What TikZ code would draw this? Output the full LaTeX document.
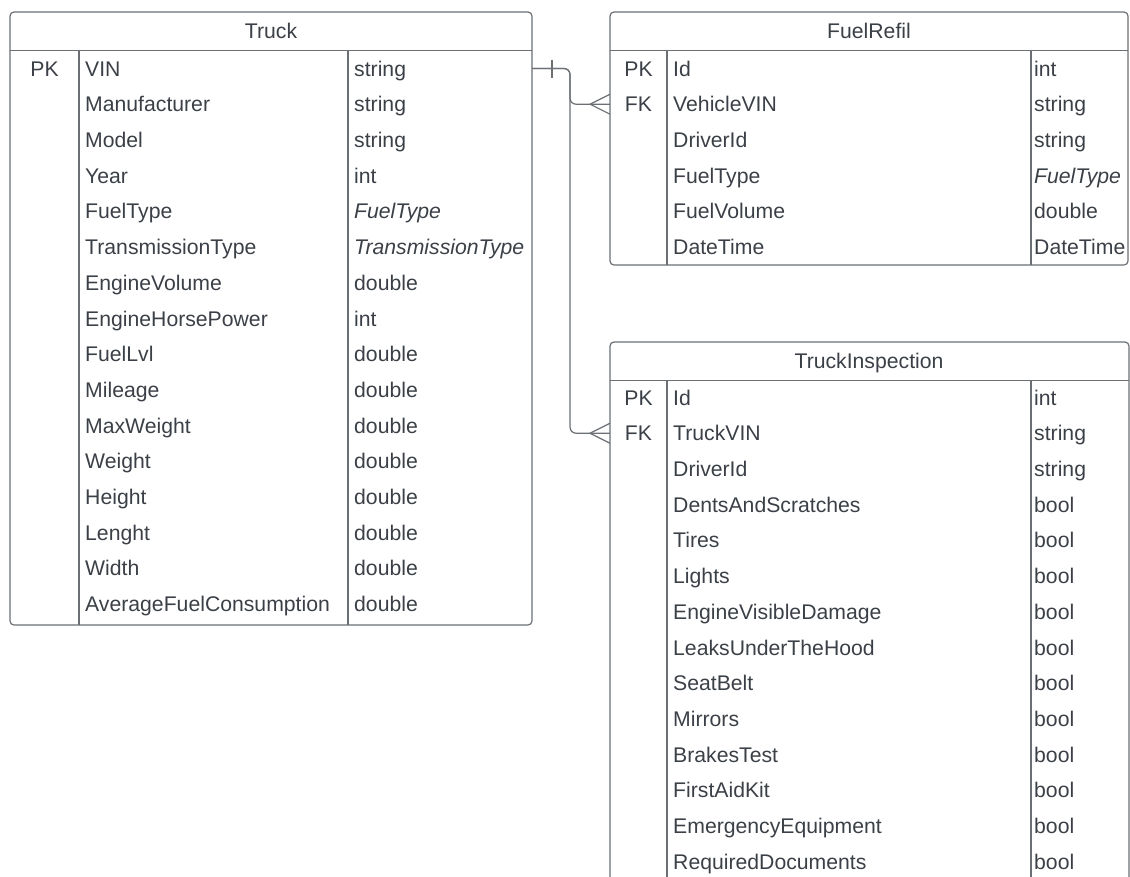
\documentclass[tikz,border=0pt]{standalone}
\usepackage{fontspec}
\setmainfont{Liberation Sans}
\usetikzlibrary{positioning}
\definecolor{erline}{HTML}{6C7075}
\definecolor{ertext}{HTML}{3B4047}

\begin{document}
\begin{tikzpicture}[x=1pt, y=-1pt,
    tbl/.style={draw=erline, line width=1.2pt, rounded corners=4pt},
    sep/.style={draw=erline, line width=1.2pt},
    cell/.style={anchor=west, inner sep=0pt, text=ertext, text height=15.2pt, text depth=0pt, font=\fontsize{21.2}{25}\selectfont},
    title/.style={cell, anchor=center},
    rel/.style={draw=erline, line width=1.2pt, rounded corners=6pt}
]
    \useasboundingbox (0,0) rectangle (1130,876);
    \clip (0,0) rectangle (1130,876);

    % Truck
    \draw[tbl] (10,12) rectangle (532,625);
    \draw[sep] (10,50.5) -- (532,50.5);
    \draw[sep] (79,50.5) -- (79,625) (348,50.5) -- (348,625);
    \node[title] (truck) at (271,31) {Truck};
    \node[title] (truck-pk) at (44.5,68.5) {PK};
    \foreach \n/\t [count=\i] in {VIN/string, Manufacturer/string, Model/string, Year/int,
        FuelType/{\textit{FuelType}}, TransmissionType/{\textit{TransmissionType}},
        EngineVolume/double, EngineHorsePower/int, FuelLvl/double, Mileage/double,
        MaxWeight/double, Weight/double, Height/double, Lenght/double, Width/double,
        AverageFuelConsumption/double} {
        \node[cell] (truck-\i) at (85,{68.5+35.7*(\i-1)}) {\n};
        \node[cell] (truck-type-\i) at (354,{68.5+35.7*(\i-1)}) {\t};
    }
    \coordinate (truck-vin) at (532,68.5);

    % FuelRefil
    \draw[tbl] (610,12) rectangle (1128,265);
    \draw[sep] (610,50.5) -- (1128,50.5);
    \draw[sep] (667,50.5) -- (667,265) (1031,50.5) -- (1031,265);
    \node[title] (refil) at (869,31) {FuelRefil};
    \node[title] (refil-pk) at (638.5,68.5) {PK};
    \node[title] (refil-fk) at (638.5,104.2) {FK};
    \foreach \n/\t [count=\i] in {Id/int, VehicleVIN/string, DriverId/string,
        FuelType/{\textit{FuelType}}, FuelVolume/double, DateTime/DateTime} {
        \node[cell] (refil-\i) at (673,{68.5+35.7*(\i-1)}) {\n};
        \node[cell] (refil-type-\i) at (1034,{68.5+35.7*(\i-1)}) {\t};
    }
    \coordinate (refil-vin) at (610,104.2);

    % TruckInspection
    \draw[tbl] (610,342) rectangle (1129,890);
    \draw[sep] (610,380.5) -- (1129,380.5);
    \draw[sep] (667,380.5) -- (667,890) (1031,380.5) -- (1031,890);
    \node[title] (insp) at (869,361) {TruckInspection};
    \node[title] (insp-pk) at (638.5,397.5) {PK};
    \node[title] (insp-fk) at (638.5,433.2) {FK};
    \foreach \n/\t [count=\i] in {Id/int, TruckVIN/string, DriverId/string,
        DentsAndScratches/bool, Tires/bool, Lights/bool, EngineVisibleDamage/bool,
        LeaksUnderTheHood/bool, SeatBelt/bool, Mirrors/bool, BrakesTest/bool,
        FirstAidKit/bool, EmergencyEquipment/bool, RequiredDocuments/bool} {
        \node[cell] (insp-\i) at (673,{397.5+35.7*(\i-1)}) {\n};
        \node[cell] (insp-type-\i) at (1034,{397.5+35.7*(\i-1)}) {\t};
    }
    \coordinate (insp-vin) at (610,433.2);

    % Relations
    \draw[rel] (truck-vin) -| ([xshift=-40pt]refil-vin) -- (refil-vin);
    \draw[rel] (truck-vin) -| ([xshift=-40pt]insp-vin) -- (insp-vin);
    \draw[sep] ([xshift=20pt]truck-vin) ++(0,-9) -- ++(0,18);
    \draw[sep] ([xshift=-20pt]refil-vin) -- ++(20,-10) ([xshift=-20pt]refil-vin) -- ++(20,10);
    \draw[sep] ([xshift=-20pt]insp-vin) -- ++(20,-10) ([xshift=-20pt]insp-vin) -- ++(20,10);
\end{tikzpicture}
\end{document}
